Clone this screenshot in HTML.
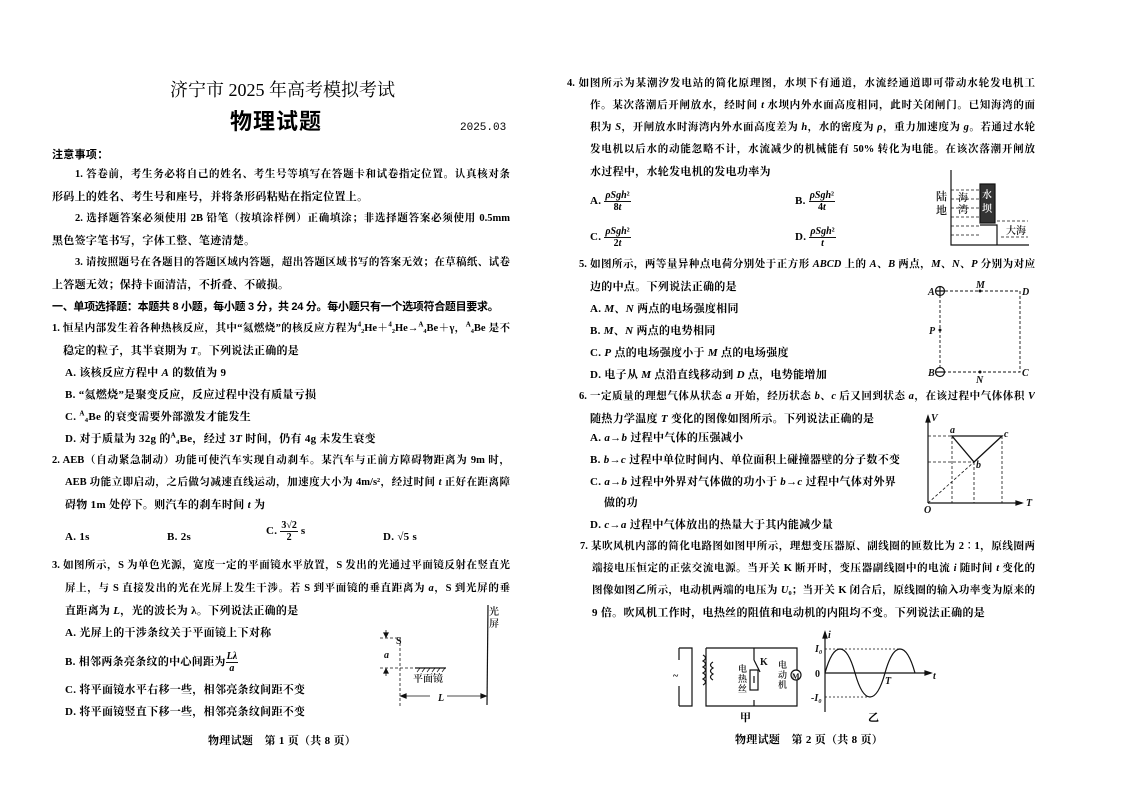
<!DOCTYPE html>
<html><head><meta charset="utf-8">
<style>
body{margin:0;width:1123px;height:794px;background:#fff;position:relative;overflow:hidden;font-family:"Liberation Serif","Noto Serif CJK SC",serif;color:#000}
.l{position:absolute;font-size:11px;letter-spacing:0.3px;line-height:16px;white-space:nowrap;font-weight:700}
.j{text-align:justify;text-align-last:justify;white-space:normal;overflow:hidden;height:16px;font-size:10.5px;letter-spacing:0}
.h{font-family:"Liberation Sans","Noto Sans CJK SC",sans-serif;font-weight:700}
i{font-style:italic}
.fr{display:inline-block;vertical-align:middle;text-align:center;font-size:10px;line-height:11px;letter-spacing:0}
.fr span{display:block}
.fr .n{border-bottom:1px solid #111;padding:0 1px}
sup{font-size:7px;line-height:0}
svg{position:absolute;left:0;top:0}
</style></head><body>
<div class="l" style="left:170px;top:80px;font-size:18px;line-height:20px;font-weight:400;letter-spacing:0">济宁市 2025 年高考模拟考试</div>
<div class="l h" style="left:230px;top:109px;font-size:22px;line-height:26px;letter-spacing:1px">物理试题</div>
<div class="l" style="left:460px;top:120px;font-size:11px;font-family:'Liberation Mono',monospace;letter-spacing:0;font-weight:400">2025.03</div>

<div class="l h" style="left:52px;top:147px">注意事项：</div>
<div class="l j" style="left:75px;top:167px;width:435px">1. 答卷前，考生务必将自己的姓名、考生号等填写在答题卡和试卷指定位置。认真核对条</div>
<div class="l" style="left:52px;top:189px">形码上的姓名、考生号和座号，并将条形码粘贴在指定位置上。</div>
<div class="l j" style="left:75px;top:211px;width:435px">2. 选择题答案必须使用 2B 铅笔（按填涂样例）正确填涂；非选择题答案必须使用 0.5mm</div>
<div class="l" style="left:52px;top:233px">黑色签字笔书写，字体工整、笔迹清楚。</div>
<div class="l j" style="left:75px;top:255px;width:435px">3. 请按照题号在各题目的答题区域内答题，超出答题区域书写的答案无效；在草稿纸、试卷</div>
<div class="l" style="left:52px;top:277px">上答题无效；保持卡面清洁，不折叠、不破损。</div>
<div class="l h" style="left:52px;top:299px;letter-spacing:-0.3px">一、单项选择题：本题共 8 小题，每小题 3 分，共 24 分。每小题只有一个选项符合题目要求。</div>
<div class="l j" style="left:52px;top:321px;width:458px">1. 恒星内部发生着各种热核反应，其中“氦燃烧”的核反应方程为<sup>4</sup>₂He＋<sup>4</sup>₂He→<sup>A</sup>₄Be＋γ，<sup>A</sup>₄Be 是不</div>
<div class="l" style="left:63px;top:343px">稳定的粒子，其半衰期为 <i>T</i>。下列说法正确的是</div>
<div class="l" style="left:65px;top:365px">A. 该核反应方程中 <i>A</i> 的数值为 9</div>
<div class="l" style="left:65px;top:387px">B. “氦燃烧”是聚变反应，反应过程中没有质量亏损</div>
<div class="l" style="left:65px;top:409px">C. <sup>A</sup>₄Be 的衰变需要外部激发才能发生</div>
<div class="l" style="left:65px;top:431px">D. 对于质量为 32g 的<sup>A</sup>₄Be，经过 3<i>T</i> 时间，仍有 4g 未发生衰变</div>
<div class="l j" style="left:52px;top:453px;width:458px">2. AEB（自动紧急制动）功能可使汽车实现自动刹车。某汽车与正前方障碍物距离为 9m 时，</div>
<div class="l j" style="left:65px;top:475px;width:445px">AEB 功能立即启动，之后做匀减速直线运动，加速度大小为 4m/s²，经过时间 <i>t</i> 正好在距离障</div>
<div class="l" style="left:65px;top:497px">碍物 1m 处停下。则汽车的刹车时间 <i>t</i> 为</div>
<div class="l" style="left:65px;top:529px">A. 1s</div>
<div class="l" style="left:167px;top:529px">B. 2s</div>
<div class="l" style="left:266px;top:520px">C. <span class="fr"><span class="n">3√2</span><span>2</span></span> s</div>
<div class="l" style="left:383px;top:529px">D. √5 s</div>
<div class="l j" style="left:52px;top:558px;width:458px">3. 如图所示，S 为单色光源，宽度一定的平面镜水平放置，S 发出的光通过平面镜反射在竖直光</div>
<div class="l j" style="left:65px;top:581px;width:445px">屏上，与 S 直接发出的光在光屏上发生干涉。若 S 到平面镜的垂直距离为 <i>a</i>，S 到光屏的垂</div>
<div class="l" style="left:65px;top:603px">直距离为 <i>L</i>，光的波长为 λ。下列说法正确的是</div>
<div class="l" style="left:65px;top:625px">A. 光屏上的干涉条纹关于平面镜上下对称</div>
<div class="l" style="left:65px;top:651px">B. 相邻两条亮条纹的中心间距为<span class="fr"><span class="n"><i>Lλ</i></span><span><i>a</i></span></span></div>
<div class="l" style="left:65px;top:682px">C. 将平面镜水平右移一些，相邻亮条纹间距不变</div>
<div class="l" style="left:65px;top:704px">D. 将平面镜竖直下移一些，相邻亮条纹间距不变</div>
<div class="l" style="left:208px;top:733px">物理试题　第 1 页（共 8 页）</div>

<div class="l j" style="left:567px;top:76px;width:468px">4. 如图所示为某潮汐发电站的简化原理图，水坝下有通道，水流经通道即可带动水轮发电机工</div>
<div class="l j" style="left:590px;top:98px;width:445px">作。某次落潮后开闸放水，经时间 <i>t</i> 水坝内外水面高度相同，此时关闭闸门。已知海湾的面</div>
<div class="l j" style="left:590px;top:120px;width:445px">积为 <i>S</i>，开闸放水时海湾内外水面高度差为 <i>h</i>，水的密度为 <i>ρ</i>，重力加速度为 <i>g</i>。若通过水轮</div>
<div class="l j" style="left:590px;top:142px;width:445px">发电机以后水的动能忽略不计，水流减少的机械能有 50% 转化为电能。在该次落潮开闸放</div>
<div class="l" style="left:590px;top:164px">水过程中，水轮发电机的发电功率为</div>
<div class="l" style="left:590px;top:190px">A. <span class="fr"><span class="n"><i>ρSgh</i>²</span><span>8<i>t</i></span></span></div>
<div class="l" style="left:795px;top:190px">B. <span class="fr"><span class="n"><i>ρSgh</i>²</span><span>4<i>t</i></span></span></div>
<div class="l" style="left:590px;top:226px">C. <span class="fr"><span class="n"><i>ρSgh</i>²</span><span>2<i>t</i></span></span></div>
<div class="l" style="left:795px;top:226px">D. <span class="fr"><span class="n"><i>ρSgh</i>²</span><span><i>t</i></span></span></div>
<div class="l j" style="left:579px;top:257px;width:456px">5. 如图所示，两等量异种点电荷分别处于正方形 <i>ABCD</i> 上的 <i>A</i>、<i>B</i> 两点，<i>M</i>、<i>N</i>、<i>P</i> 分别为对应</div>
<div class="l" style="left:590px;top:279px">边的中点。下列说法正确的是</div>
<div class="l" style="left:590px;top:301px">A. <i>M</i>、<i>N</i> 两点的电场强度相同</div>
<div class="l" style="left:590px;top:323px">B. <i>M</i>、<i>N</i> 两点的电势相同</div>
<div class="l" style="left:590px;top:345px">C. <i>P</i> 点的电场强度小于 <i>M</i> 点的电场强度</div>
<div class="l" style="left:590px;top:367px">D. 电子从 <i>M</i> 点沿直线移动到 <i>D</i> 点，电势能增加</div>
<div class="l j" style="left:579px;top:389px;width:456px">6. 一定质量的理想气体从状态 <i>a</i> 开始，经历状态 <i>b</i>、<i>c</i> 后又回到状态 <i>a</i>，在该过程中气体体积 <i>V</i></div>
<div class="l" style="left:590px;top:411px">随热力学温度 <i>T</i> 变化的图像如图所示。下列说法正确的是</div>
<div class="l" style="left:590px;top:430px">A. <i>a</i>→<i>b</i> 过程中气体的压强减小</div>
<div class="l" style="left:590px;top:452px">B. <i>b</i>→<i>c</i> 过程中单位时间内、单位面积上碰撞器壁的分子数不变</div>
<div class="l" style="left:590px;top:474px">C. <i>a</i>→<i>b</i> 过程中外界对气体做的功小于 <i>b</i>→<i>c</i> 过程中气体对外界</div>
<div class="l" style="left:604px;top:495px">做的功</div>
<div class="l" style="left:590px;top:517px">D. <i>c</i>→<i>a</i> 过程中气体放出的热量大于其内能减少量</div>
<div class="l j" style="left:580px;top:539px;width:455px">7. 某吹风机内部的简化电路图如图甲所示，理想变压器原、副线圈的匝数比为 2∶1，原线圈两</div>
<div class="l j" style="left:592px;top:561px;width:443px">端接电压恒定的正弦交流电源。当开关 K 断开时，变压器副线圈中的电流 <i>i</i> 随时间 <i>t</i> 变化的</div>
<div class="l j" style="left:592px;top:583px;width:443px">图像如图乙所示，电动机两端的电压为 <i>U</i>₀；当开关 K 闭合后，原线圈的输入功率变为原来的</div>
<div class="l" style="left:592px;top:605px">9 倍。吹风机工作时，电热丝的阻值和电动机的内阻均不变。下列说法正确的是</div>
<div class="l" style="left:740px;top:710px;font-size:11px">甲</div>
<div class="l" style="left:868px;top:710px;font-size:11px">乙</div>
<div class="l" style="left:735px;top:732px">物理试题　第 2 页（共 8 页）</div>

<svg width="1123" height="794" viewBox="0 0 1123 794" font-family="Liberation Serif,Noto Serif CJK SC,serif" font-size="10" fill="#111">
<g stroke="#111" fill="none" stroke-width="1.2">
<path d="M951 170V245H1029"/>
<path d="M991 225H997V245M980 225H991"/>
<rect x="980" y="184" width="15" height="39" fill="#333"/>
<path d="M951 190H980M951 199H980M951 208H980M951 217H980M951 226H980M951 235H980M997 221H1028M1001 237H1028" stroke-dasharray="3 2" stroke-width="0.8"/>
<path d="M940 291H1020V372H940Z" stroke-dasharray="3 2" stroke-width="0.9"/>
<circle cx="940" cy="291" r="4.5" fill="#fff"/><path d="M936 291H944M940 287V295"/>
<circle cx="940" cy="372" r="4.5" fill="#fff"/><path d="M936 372H944"/>
<path d="M928 503V416M928 503H1022"/>
<path d="M928 416l-2 6h4zM1022 503l-6 -2v4z" fill="#111"/>
<path d="M952 436H1002L974 462Z" stroke-width="1.3"/>
<path d="M928 436H952M952 436V503M974 462V503M1002 436V503M928 462H974M928 503L974 462" stroke-dasharray="3 2" stroke-width="0.8"/>
<path d="M488 605L487 705"/>
<path d="M380 638H400M380 668H415M400 638V707" stroke-dasharray="3 2" stroke-width="0.8"/>
<path d="M415 668H446" stroke-width="1.3"/>
<path d="M417 672l3-4M422 672l3-4M427 672l3-4M432 672l3-4M437 672l3-4M442 672l3-4" stroke-width="0.7"/>
<path d="M386 630V636M386 676V670M401 696H430M447 696H486" stroke-width="0.8"/>
<path d="M386 637l-2-4h4zM386 669l-2 4h4zM401 696l5-2v4zM486 696l-5-2v4z" fill="#111"/>
<path d="M679 648H692V706H679M679 648V660M679 686V706"/>
<path d="M706 648H797V706H706V648M754 648V660M754 660L760 672M754 676V683M754 700V706"/>
<rect x="750" y="670" width="8" height="20"/>
<path d="M703 655q5 3 0 6q5 3 0 6q5 3 0 6q5 3 0 6q5 3 0 6M713 662q-5 3 0 6q-5 3 0 6q-5 3 0 6"/>
<circle cx="796" cy="675" r="5" fill="#fff"/>
<path d="M825 712V632M825 673H931"/>
<path d="M825 632l-2 6h4zM931 673l-6-2v4z" fill="#111"/>
<path d="M825 673C830 655 835 649 840 649C845 649 850 655 855 673C860 691 865 697 870 697C875 697 880 691 885 673C890 655 895 649 900 649C905 649 910 655 915 673"/>
<path d="M825 649H900M825 697H870" stroke-dasharray="2 2" stroke-width="0.7"/>
</g>
<g font-weight="600">
<text x="936" y="200" font-size="11">陆</text><text x="936" y="214" font-size="11">地</text>
<text x="958" y="201" font-size="10">海</text><text x="958" y="213" font-size="10">湾</text>
<text x="982" y="198" font-size="10" fill="#fff">水</text><text x="982" y="212" font-size="10" fill="#fff">坝</text>
<text x="1006" y="234" font-size="10">大海</text>
<text x="928" y="295" font-style="italic">A</text><text x="1022" y="295" font-style="italic">D</text>
<text x="928" y="376" font-style="italic">B</text><text x="1022" y="376" font-style="italic">C</text>
<text x="976" y="288" font-style="italic">M</text><text x="976" y="383" font-style="italic">N</text>
<text x="929" y="334" font-style="italic">P</text>
<circle cx="980" cy="291" r="1.5"/><circle cx="980" cy="372" r="1.5"/><circle cx="940" cy="330" r="1.5"/>
<text x="931" y="421" font-style="italic">V</text><text x="1026" y="506" font-style="italic">T</text>
<text x="924" y="513" font-style="italic">O</text><text x="950" y="433" font-style="italic">a</text>
<text x="1004" y="437" font-style="italic">c</text><text x="976" y="468" font-style="italic">b</text>
<text x="396" y="644">S</text><text x="384" y="658" font-style="italic">a</text>
<text x="413" y="682">平面镜</text><text x="438" y="701" font-style="italic">L</text>
<text x="489" y="615">光</text><text x="489" y="627">屏</text>
<text x="673" y="679">~</text>
<text x="760" y="665">K</text>
<text x="738" y="672" font-size="9">电</text><text x="738" y="682" font-size="9">热</text><text x="738" y="692" font-size="9">丝</text>
<text x="778" y="668" font-size="9">电</text><text x="778" y="678" font-size="9">动</text><text x="778" y="688" font-size="9">机</text>
<text x="792" y="679" font-size="8">M</text>
<text x="828" y="638" font-style="italic">i</text><text x="933" y="679" font-style="italic">t</text>
<text x="815" y="652" font-style="italic">I₀</text><text x="815" y="677">0</text><text x="811" y="701" font-style="italic">-I₀</text>
<text x="885" y="684" font-style="italic">T</text>
</g>
</svg>
</body></html>
